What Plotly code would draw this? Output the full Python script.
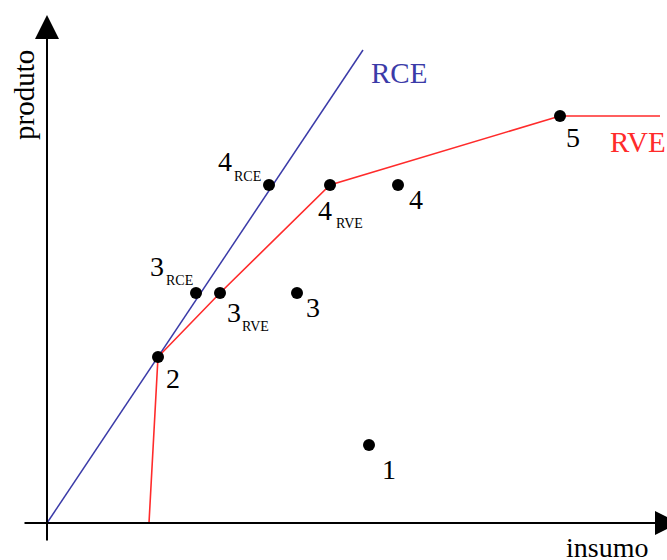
import plotly.graph_objects as go

# Observed units (insumo, produto) for the five DMUs
dmu_names = ["1", "2", "3", "4", "5"]
dmu_insumo = [16.1, 5.55, 12.5, 17.55, 25.65]
dmu_produto = [3.9, 8.3, 11.5, 16.9, 20.35]

# Projections of units 3 and 4 onto the frontiers
proj_insumo = [7.45, 8.65, 11.1, 14.15]
proj_produto = [11.5, 11.5, 16.9, 16.9]
proj_num = ["3", "3", "4", "4"]
proj_sub = ["RCE", "RVE", "RCE", "RVE"]

# Constant returns to scale frontier (ray from the origin)
rce_insumo = [0, 15.8]
rce_produto = [0, 23.65]

# Variable returns to scale frontier
rve_insumo = [5.1, 5.55, 8.65, 14.15, 25.65, 30.65]
rve_produto = [0, 8.3, 11.5, 16.9, 20.35, 20.35]

BLUE = "#3b3ba8"
RED = "#ff2b2b"
FONT = "Liberation Serif"

fig = go.Figure()

fig.add_trace(go.Scatter(x=rce_insumo, y=rce_produto, mode="lines",
                         line=dict(color=BLUE, width=1.5), hoverinfo="skip"))
fig.add_trace(go.Scatter(x=rve_insumo, y=rve_produto, mode="lines",
                         line=dict(color=RED, width=1.6), hoverinfo="skip"))
fig.add_trace(go.Scatter(x=dmu_insumo + proj_insumo, y=dmu_produto + proj_produto,
                         mode="markers", marker=dict(color="black", size=12),
                         cliponaxis=False, hoverinfo="skip"))

ann = []

# Axes drawn as arrows
ann.append(dict(x=31.6, y=0, ax=-1.2, ay=0, xref="x", yref="y", axref="x", ayref="y",
                showarrow=True, arrowhead=2, arrowsize=2.4, arrowwidth=2,
                arrowcolor="black", text=""))
ann.append(dict(x=0, y=25.4, ax=0, ay=-0.95, xref="x", yref="y", axref="x", ayref="y",
                showarrow=True, arrowhead=2, arrowsize=2.4, arrowwidth=2,
                arrowcolor="black", text=""))

# Unit labels, offset below-right of each point
dmu_offsets = [(20, -24), (15, -21), (16, -14), (18, -14), (13, -21)]
for name, xv, yv, (dx, dy) in zip(dmu_names, dmu_insumo, dmu_produto, dmu_offsets):
    ann.append(dict(x=xv, y=yv, text=name, showarrow=False, xshift=dx, yshift=dy,
                    font=dict(family=FONT, size=28, color="black")))

# Projection labels with subscripts
num_offsets = [(-39, 27), (14, -19), (-44, 24), (-5, -25)]
sub_offsets = [(-17, 13), (35, -33), (-22, 9), (19, -38)]
for n, s, xv, yv, (nx, ny), (sx, sy) in zip(proj_num, proj_sub, proj_insumo, proj_produto,
                                             num_offsets, sub_offsets):
    ann.append(dict(x=xv, y=yv, text=n, showarrow=False, xshift=nx, yshift=ny,
                    font=dict(family=FONT, size=28, color="black")))
    ann.append(dict(x=xv, y=yv, text=s, showarrow=False, xshift=sx, yshift=sy,
                    font=dict(family=FONT, size=14, color="black")))

# Frontier names
ann.append(dict(x=rce_insumo[-1], y=rce_produto[-1], text="RCE", showarrow=False,
                xshift=36, yshift=-23, font=dict(family=FONT, size=29, color=BLUE)))
ann.append(dict(x=rve_insumo[-1], y=rve_produto[-1], text="RVE", showarrow=False,
                xshift=-22, yshift=-26, font=dict(family=FONT, size=29, color=RED)))

# Axis titles
ann.append(dict(x=0, y=21.4, text="produto", showarrow=False, textangle=-90,
                xshift=-23, font=dict(family=FONT, size=29, color="black")))
ann.append(dict(x=28, y=0, text="insumo", showarrow=False, yshift=-24,
                font=dict(family=FONT, size=28, color="black")))

fig.update_layout(
    width=667, height=560,
    margin=dict(l=0, r=0, t=0, b=0),
    paper_bgcolor="white", plot_bgcolor="white",
    showlegend=False,
    annotations=ann,
    xaxis=dict(range=[-2.35, 31], visible=False, fixedrange=True),
    yaxis=dict(range=[-1.85, 26.15], visible=False, fixedrange=True),
)

fig.write_html("out.html")
